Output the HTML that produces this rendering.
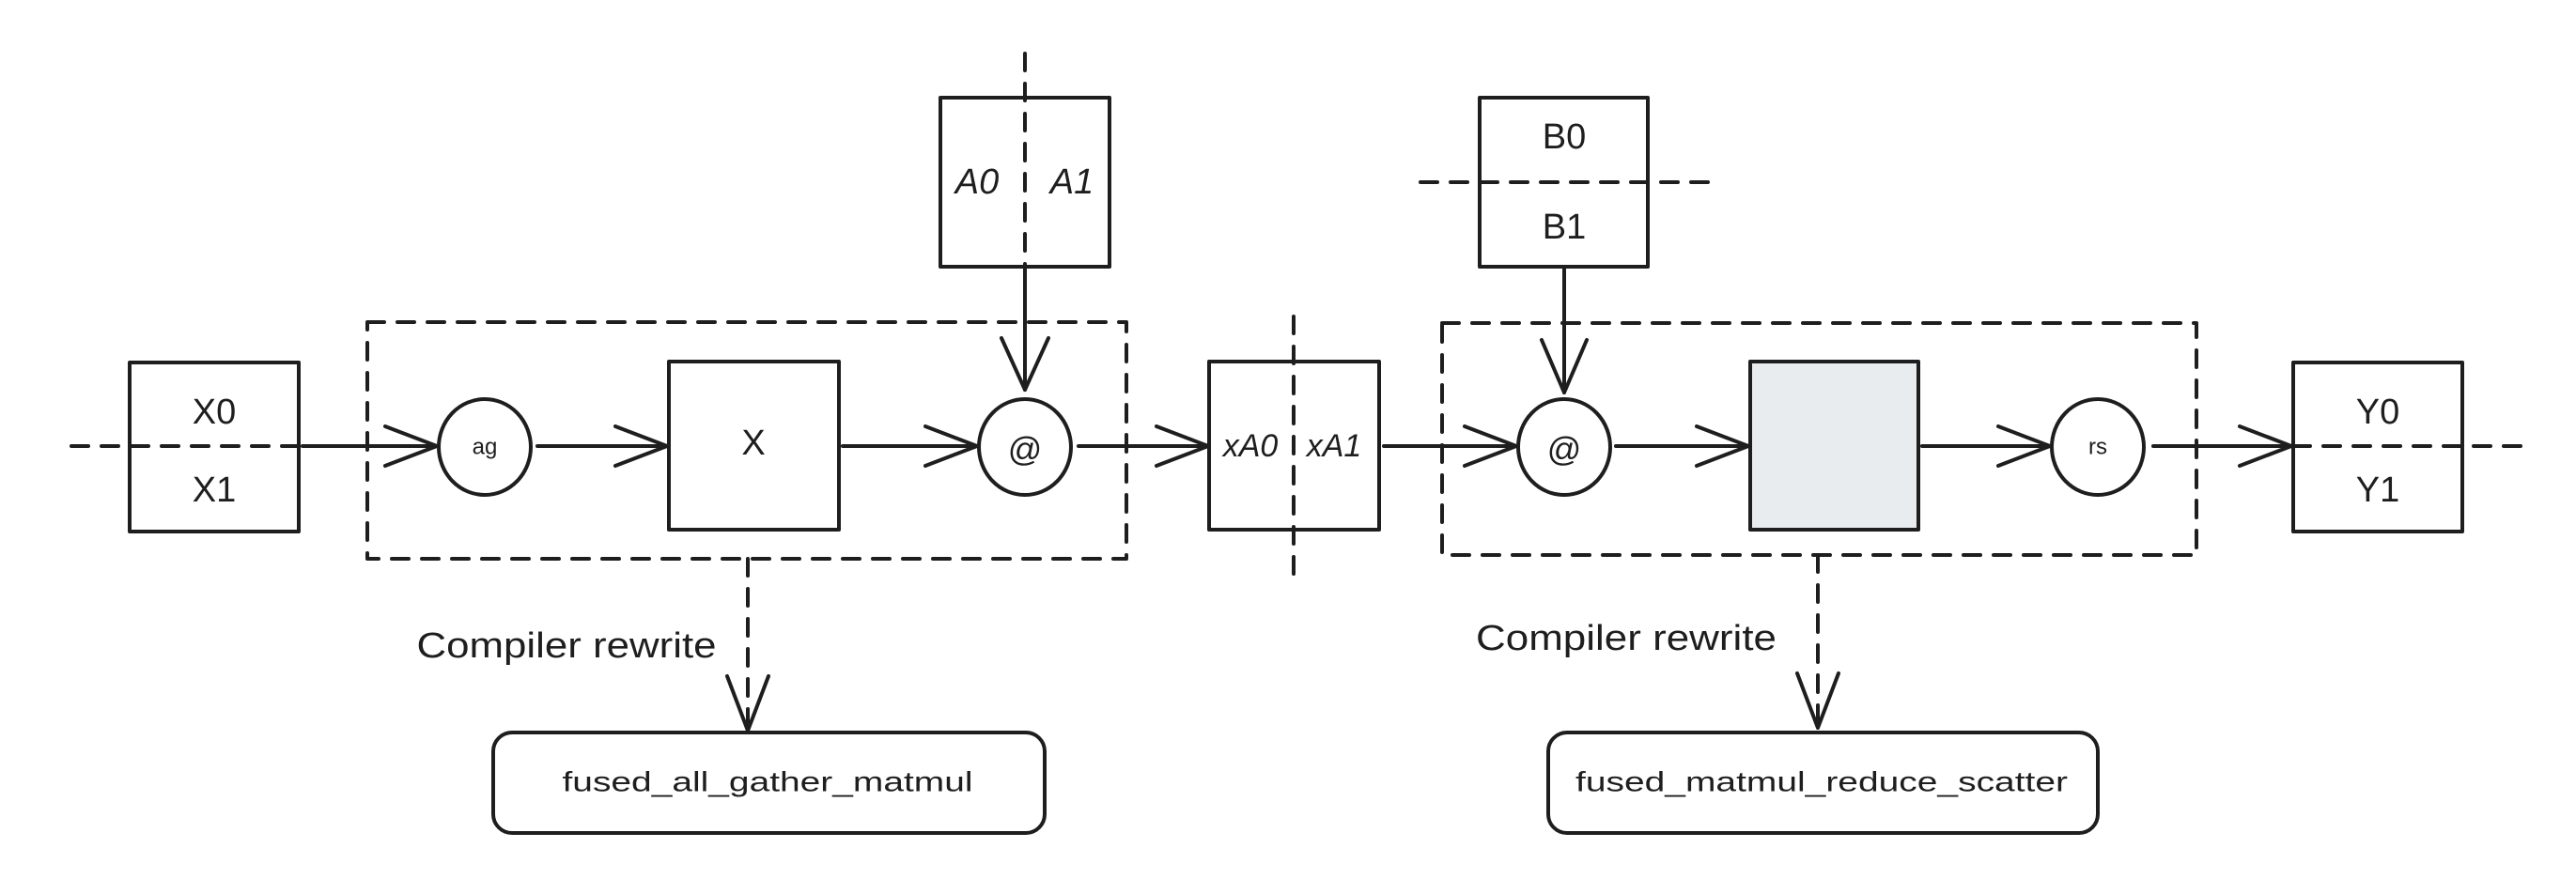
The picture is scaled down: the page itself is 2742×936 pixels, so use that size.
<!DOCTYPE html>
<html><head><meta charset="utf-8"><style>
html,body{margin:0;padding:0;background:#fff;}
svg{display:block}
text{font-family:"Liberation Sans","DejaVu Sans",sans-serif;fill:#1e1e1e;}
</style></head><body>
<svg width="2742" height="936" viewBox="0 0 2742 936" xmlns="http://www.w3.org/2000/svg">
<g stroke="#1e1e1e" stroke-width="4" fill="none" stroke-linecap="round" stroke-linejoin="round">
  <g stroke-dasharray="18 14">
    <line x1="76" y1="475" x2="390" y2="475"/>
    <line x1="2441" y1="475" x2="2684" y2="475"/>
    <line x1="1091" y1="57" x2="1091" y2="284"/>
    <line x1="1512" y1="194" x2="1820" y2="194"/>
    <line x1="1377" y1="337" x2="1377" y2="612"/>
    <rect x="391" y="343" width="808" height="252"/>
    <rect x="1535" y="344" width="803" height="247"/>
    <line x1="796" y1="595" x2="796" y2="778"/>
    <line x1="1935" y1="591" x2="1935" y2="778"/>
  </g>
  <rect x="138" y="386" width="180" height="180"/>
  <rect x="712" y="385" width="181" height="179"/>
  <rect x="1001" y="104" width="180" height="180"/>
  <rect x="1287" y="385" width="181" height="179"/>
  <rect x="1575" y="104" width="179" height="180"/>
  <rect x="1863" y="385" width="179" height="179" fill="#e9ecef"/>
  <rect x="2441" y="386" width="180" height="180"/>
  <rect x="525" y="780" width="587" height="107" rx="20"/>
  <rect x="1648" y="780" width="585" height="107" rx="20"/>
  <ellipse cx="516" cy="476" rx="49" ry="51"/>
  <ellipse cx="1091" cy="476" rx="49" ry="51"/>
  <ellipse cx="1665" cy="476" rx="49" ry="51"/>
  <ellipse cx="2233" cy="476" rx="49" ry="51"/>
  <g>
    <line x1="322" y1="475" x2="465" y2="475"/><polyline points="410,454 465,475 410,496"/>
    <line x1="572" y1="475" x2="710" y2="475"/><polyline points="655,454 710,475 655,496"/>
    <line x1="897" y1="475" x2="1040" y2="475"/><polyline points="985,454 1040,475 985,496"/>
    <line x1="1148" y1="475" x2="1286" y2="475"/><polyline points="1231,454 1286,475 1231,496"/>
    <line x1="1473" y1="475" x2="1614" y2="475"/><polyline points="1559,454 1614,475 1559,496"/>
    <line x1="1720" y1="475" x2="1861" y2="475"/><polyline points="1806,454 1861,475 1806,496"/>
    <line x1="2046" y1="475" x2="2182" y2="475"/><polyline points="2127,454 2182,475 2127,496"/>
    <line x1="2292" y1="475" x2="2439" y2="475"/><polyline points="2384,454 2439,475 2384,496"/>
  </g>
  <line x1="1091" y1="284" x2="1091" y2="415"/><polyline points="1066,360 1091,415 1116,360"/>
  <line x1="1665" y1="284" x2="1665" y2="418"/><polyline points="1641,362 1665,418 1689,362"/>
  <polyline points="774,720 796,778 818,720"/>
  <polyline points="1913,717 1935,775 1957,717"/>
</g>
<g font-size="38" text-anchor="middle" dominant-baseline="central">
  <text x="228" y="439">X0</text>
  <text x="228" y="522">X1</text>
  <text x="1040" y="194" font-style="italic">A0</text>
  <text x="1141" y="194" font-style="italic">A1</text>
  <text x="1665" y="146">B0</text>
  <text x="1665" y="242">B1</text>
  <text x="2531" y="439">Y0</text>
  <text x="2531" y="522">Y1</text>
  <text x="802" y="472">X</text>
  <text x="1331" y="475" font-size="34" font-style="italic">xA0</text>
  <text x="1420" y="475" font-size="34" font-style="italic">xA1</text>
  <text x="1091" y="478" font-size="36">@</text>
  <text x="1665" y="478" font-size="36">@</text>
  <text x="516" y="476" font-size="24">ag</text>
  <text x="2233" y="476" font-size="24">rs</text>
  <text x="603" y="688" font-size="38" textLength="319" lengthAdjust="spacingAndGlyphs">Compiler rewrite</text>
  <text x="1731" y="680" font-size="38" textLength="320" lengthAdjust="spacingAndGlyphs">Compiler rewrite</text>
  <text x="817" y="833" font-size="30" textLength="437" lengthAdjust="spacingAndGlyphs">fused_all_gather_matmul</text>
  <text x="1939" y="833" font-size="30" textLength="524" lengthAdjust="spacingAndGlyphs">fused_matmul_reduce_scatter</text>
</g>
</svg>
</body></html>
